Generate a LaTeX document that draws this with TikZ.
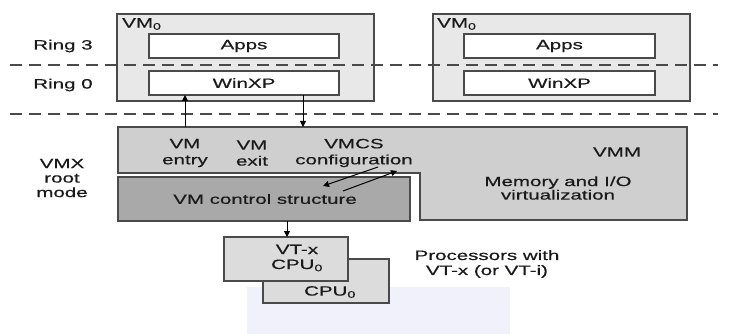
\documentclass[tikz,border=0pt]{standalone}
\usepackage{fontspec}
\setmainfont{Liberation Sans}[FakeStretch=1.52,FakeBold=0.5]
\usetikzlibrary{arrows.meta}
\definecolor{edgec}{HTML}{4A4A4A}
\definecolor{vmfill}{HTML}{E8E8E8}
\definecolor{vmmfill}{HTML}{CFCFCF}
\definecolor{ctlfill}{HTML}{A9A9A9}
\definecolor{cpufill}{HTML}{DCDCDC}
\definecolor{wmark}{HTML}{F0F1FA}
\definecolor{txt}{HTML}{1A1A1A}
\tikzset{
  frame/.style={draw=edgec, line width=1.4pt, inner sep=0pt, outer sep=0pt},
  vmbox/.style={frame, fill=vmfill},
  innerbox/.style={frame, fill=white, line width=1.2pt},
  cpubox/.style={frame, fill=cpufill},
  ctlbox/.style={frame, fill=ctlfill},
  lbl/.style={text=txt, align=center, inner sep=0pt},
  ring/.style={dashed, dash pattern=on 12pt off 7pt, line width=1.5pt, draw=edgec},
  arr/.style={draw=black, line width=1pt, -{Triangle[length=6pt,width=6pt]}},
}
\begin{document}
\begin{tikzpicture}[x=1pt,y=-1pt, font=\fontsize{13.5}{15}\selectfont]
\useasboundingbox (0,0) rectangle (731,334);
% faint watermark
\fill[wmark] (247,287) rectangle (510,334);
% VM boxes
\node[vmbox, minimum width=257pt, minimum height=87pt] (vmA) at (245.5,57.5) {};
\node[vmbox, minimum width=257pt, minimum height=87pt] (vmB) at (561.5,57.5) {};
% dashed ring separators
\coordinate (r3a) at (10,65); \coordinate (r3b) at (718,65);
\coordinate (r0a) at (10,114); \coordinate (r0b) at (718,114);
\draw[ring] (r3a) -- (r3b);
\draw[ring] (r0a) -- (r0b);
% inner boxes
\node[innerbox, minimum width=190pt, minimum height=24pt] (appsA) at (244,46) {};
\node[innerbox, minimum width=190pt, minimum height=24pt] (winA) at (244,83) {};
\node[innerbox, minimum width=191pt, minimum height=24pt] (appsB) at (559.5,46) {};
\node[innerbox, minimum width=191pt, minimum height=24pt] (winB) at (559.5,83) {};
\node[lbl] (appsAt) at (appsA) {Apps};
\node[lbl] (winAt) at (winA) {WinXP};
\node[lbl] (appsBt) at (appsB) {Apps};
\node[lbl] (winBt) at (winB) {WinXP};
\node[lbl, anchor=west] (vmAt) at (122,24) {VM\textsubscript{0}};
\node[lbl, anchor=west] (vmBt) at (437,24) {VM\textsubscript{0}};
% ring labels
\node[lbl] (ring3) at (63,46) {Ring 3};
\node[lbl] (ring0) at (63,85) {Ring 0};
\node[lbl, font=\fontsize{13.5}{14.5}\selectfont] (vmx) at (62,178) {VMX\\root\\mode};
% VMM L-shape
\draw[frame, fill=vmmfill] (118,127) -- (687,127) -- (687,220) -- (420,220) -- (420,173) -- (118,173) -- cycle;
\coordinate (vmmtop) at (118,127);
% VM control structure
\node[ctlbox, minimum width=292pt, minimum height=44pt] (ctl) at (264,199) {};
\node[lbl] (ctlt) at (265,199) {VM control structure};
% VMM labels
\node[lbl, font=\fontsize{13.5}{16}\selectfont] (entry) at (185,153) {VM\\entry};
\node[lbl, font=\fontsize{13.5}{16}\selectfont] (exit) at (252,153) {VM\\exit};
\node[lbl, font=\fontsize{13.5}{16}\selectfont] (vmcs) at (354,153) {VMCS\\configuration};
\node[lbl] (vmm) at (617,152) {VMM};
\node[lbl, font=\fontsize{13.5}{13.5}\selectfont] (memio) at (558,188) {Memory and I/O\\virtualization};
% CPUs
\node[cpubox, minimum width=126pt, minimum height=44pt] (cpuB) at (326,281) {};
\node[cpubox, minimum width=124pt, minimum height=44pt] (cpuA) at (286,259) {};
\node[lbl] (cpuAt) at (297,258) {VT-x\\CPU\textsubscript{0}};
\node[lbl] (cpuBt) at (330,292) {CPU\textsubscript{0}};
\node[lbl] (proc) at (487,264) {Processors with\\VT-x (or VT-i)};
% arrows
\draw[arr] (winA.south -| entry) ++(0,32) -- (winA.south -| entry);
\coordinate (exitTop) at (303,95);
\coordinate (exitBot) at (303,127);
\draw[arr] (exitTop) -- (exitBot);
\coordinate (ctlOut) at (287,221);
\draw[arr] (ctlOut) -- (cpuA.north -| ctlOut);
\coordinate (d1a) at (378,167); \coordinate (d1b) at (323,186);
\coordinate (d2a) at (343,191); \coordinate (d2b) at (397,171);
\draw[arr] (d1a) -- (d1b);
\draw[arr] (d2a) -- (d2b);
\end{tikzpicture}
\end{document}
